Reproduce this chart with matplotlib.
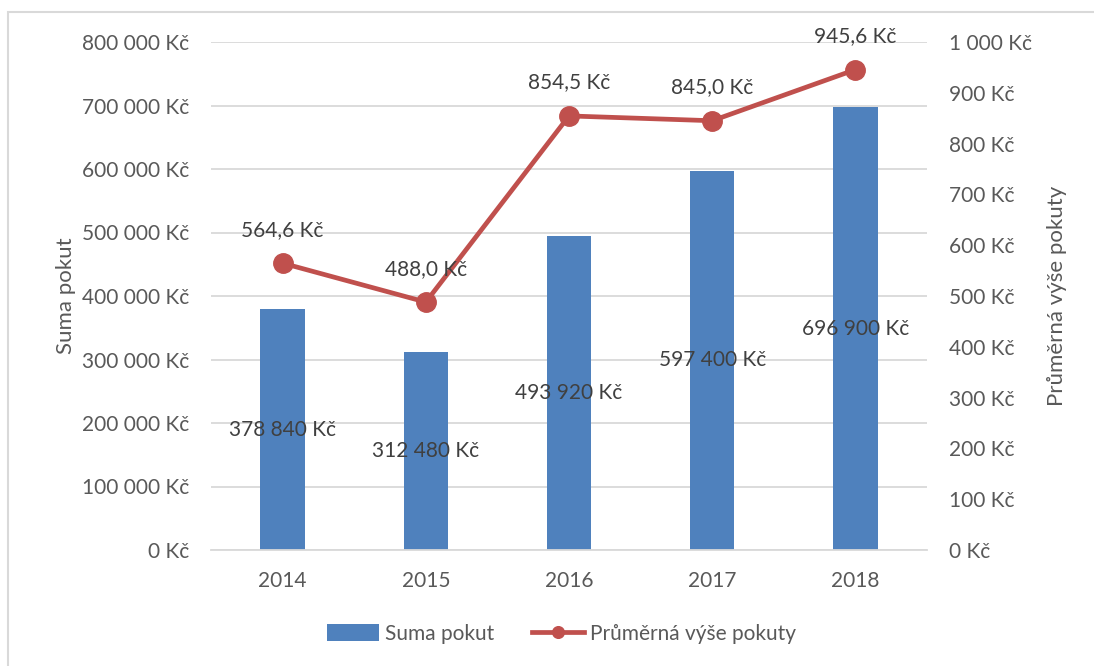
import matplotlib
matplotlib.use("Agg")
import matplotlib.pyplot as plt
from matplotlib.patches import Rectangle
from matplotlib.ticker import FuncFormatter, MultipleLocator

plt.rcParams['font.family'] = ['Lato', 'DejaVu Sans']

years = ["2014", "2015", "2016", "2017", "2018"]
suma_pokut = [378840, 312480, 493920, 597400, 696900]
prumerna_vyse = [564.6, 488.0, 854.5, 845.0, 945.6]

BLUE = "#4F81BD"
RED = "#C0504D"
TICK = "#595959"
LABEL = "#404040"
GRID = "#D9D9D9"


def kc(v, pos=None):
    return "{:,.0f} Kč".format(v).replace(",", " ")


def kc_dec(v):
    return "{:.1f} Kč".format(v).replace(".", ",")


fig = plt.figure(figsize=(10.94, 6.66), dpi=100)
ax = fig.add_axes([211 / 1094, 1 - 550 / 666, 716 / 1094, 508 / 666])
ax2 = ax.twinx()

x = list(range(len(years)))
bars = ax.bar(x, suma_pokut, width=0.31, color=BLUE, zorder=2, label="Suma pokut")
ax.set_xlim(-0.5, 4.5)
ax.set_ylim(0, 800000)
ax.yaxis.set_major_locator(MultipleLocator(100000))
ax.yaxis.set_major_formatter(FuncFormatter(kc))
ax.set_xticks(x)
ax.set_xticklabels(years)
ax.grid(axis="y", color=GRID, linewidth=1.3, zorder=0)
ax.set_axisbelow(True)
for s in ["top", "left", "right"]:
    ax.spines[s].set_visible(False)
ax.spines["bottom"].set_color(GRID)
ax.spines["bottom"].set_linewidth(1.3)
ax.tick_params(axis="both", length=0, labelsize=15, colors=TICK)
ax.tick_params(axis="y", pad=16)
ax.tick_params(axis="x", pad=15)
ax.set_ylabel("Suma pokut", fontsize=16, color=TICK)
ax.yaxis.set_label_coords(-0.189, 0.5)

for xi, v in zip(x, suma_pokut):
    ax.text(xi, v / 2, kc(v), ha="center", va="center", fontsize=15, color=LABEL, zorder=5)

line, = ax2.plot(x, prumerna_vyse, color=RED, linewidth=3.4, marker="o",
                 markersize=14, label="Průměrná výše pokuty")
ax2.set_ylim(0, 1000)
ax2.yaxis.set_major_locator(MultipleLocator(100))
ax2.yaxis.set_major_formatter(FuncFormatter(kc))
for s in ["top", "left", "right", "bottom"]:
    ax2.spines[s].set_visible(False)
ax2.tick_params(axis="y", length=0, labelsize=15, colors=TICK, pad=16)
ax2.set_ylabel("Průměrná výše pokuty", fontsize=16, color=TICK)
ax2.yaxis.set_label_coords(1.168, 0.5)

for xi, v in zip(x, prumerna_vyse):
    ax2.annotate(kc_dec(v), (xi, v), xytext=(0, 24), textcoords="offset points",
                 ha="center", va="center", fontsize=15, color=LABEL)

fig.legend(handles=[bars, line], loc="center", bbox_to_anchor=(0.513, 0.048),
           ncol=2, frameon=False, fontsize=15, labelcolor=TICK, markerscale=0.6,
           handlelength=2.5, handleheight=0.9, columnspacing=1.8, handletextpad=0.3)

fig.patches.append(Rectangle((8 / 1094, -0.1), 1.2, 1 - 12 / 666 + 0.1,
                             transform=fig.transFigure, fill=False,
                             edgecolor="#D9D9D9", linewidth=1.5))

fig.savefig("out.png", dpi=100)
